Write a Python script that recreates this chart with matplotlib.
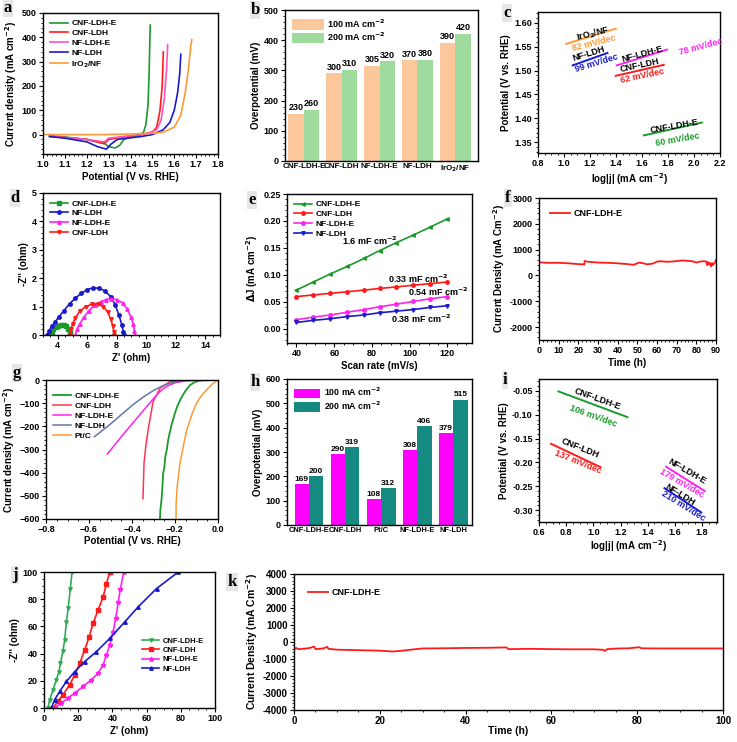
import matplotlib
matplotlib.use("Agg")
import matplotlib.pyplot as plt

plt.rcParams['font.family'] = ['Liberation Sans', 'DejaVu Sans']
plt.rcParams['font.weight'] = 'bold'
plt.rcParams['axes.labelweight'] = 'bold'
plt.rcParams['axes.linewidth'] = 1.0
plt.rcParams['xtick.labelsize'] = 6.5
plt.rcParams['ytick.labelsize'] = 6.5
plt.rcParams['axes.labelsize'] = 7

W, H = 737, 742

# ---------- data ----------
# (a) OER LSV
a_green_x = [1.03, 1.10, 1.20, 1.28, 1.30, 1.33, 1.35, 1.37, 1.40, 1.44, 1.46, 1.47, 1.48, 1.485, 1.49]
a_green_y = [-5, -10, -20, -35, -50, -55, -45, -20, -10, -3, 10, 40, 120, 250, 450]
a_red_x = [1.03, 1.10, 1.20, 1.28, 1.30, 1.35, 1.45, 1.50, 1.52, 1.535, 1.545, 1.55]
a_red_y = [-8, -12, -20, -38, -20, -12, 0, 10, 30, 100, 200, 340]
a_pink_x = [1.03, 1.10, 1.20, 1.28, 1.30, 1.40, 1.48, 1.52, 1.54, 1.555, 1.565, 1.57]
a_pink_y = [-8, -12, -20, -30, -15, -5, 5, 20, 60, 150, 270, 370]
a_blue_x = [1.03, 1.10, 1.20, 1.25, 1.29, 1.31, 1.34, 1.45, 1.50, 1.55, 1.58, 1.60, 1.615, 1.625, 1.63]
a_blue_y = [-8, -15, -30, -50, -60, -40, -20, -8, 0, 20, 50, 100, 170, 250, 330]
a_orange_x = [1.00, 1.30, 1.50, 1.55, 1.60, 1.63, 1.65, 1.665, 1.675, 1.68]
a_orange_y = [0, 0, 5, 10, 30, 80, 170, 270, 360, 390]

# (b) OER overpotential
b_cats = ['CNF-LDH-E', 'CNF-LDH', 'NF-LDH-E', 'NF-LDH', 'IrO$_2$/NF']
b_h100 = [155, 290, 316, 333, 392]
b_h200 = [170, 301, 330, 335, 420]
b_lab100 = ['230', '300', '305', '370', '390']
b_lab200 = ['260', '310', '320', '380', '420']

# (c) OER Tafel
c_names = ['IrO$_2$/NF', 'NF-LDH', 'NF-LDH-E', 'CNF-LDH', 'CNF-LDH-E']
c_slopes = ['82 mV/dec', '99 mV/dec', '78 mV/dec', '62 mV/dec', '60 mV/dec']
c_x0 = [1.016, 1.067, 1.406, 1.398, 1.614]
c_y0 = [1.556, 1.511, 1.511, 1.489, 1.364]
c_x1 = [1.398, 1.334, 1.792, 1.767, 2.060]
c_y1 = [1.588, 1.537, 1.544, 1.512, 1.391]

# (d) Nyquist OER
d_green_x = [3.5, 3.6, 3.7, 3.85, 4.0, 4.2, 4.4, 4.55, 4.7, 4.8, 4.85]
d_green_y = [0.0, 0.1, 0.2, 0.28, 0.33, 0.36, 0.35, 0.3, 0.2, 0.1, 0.02]
d_blue_x = [3.3, 3.4, 3.6, 3.8, 4.1, 4.4, 4.8, 5.2, 5.6, 6.0, 6.4, 6.8, 7.2, 7.6, 7.9, 8.15, 8.35, 8.45, 8.5]
d_blue_y = [0.0, 0.15, 0.3, 0.45, 0.65, 0.85, 1.1, 1.3, 1.47, 1.6, 1.66, 1.65, 1.55, 1.35, 1.05, 0.7, 0.35, 0.1, 0.0]
d_mag_x = [5.2, 5.3, 5.5, 5.8, 6.1, 6.5, 6.9, 7.3, 7.6, 8.0, 8.4, 8.7, 8.95, 9.1, 9.2, 9.25]
d_mag_y = [0.0, 0.2, 0.4, 0.65, 0.85, 1.05, 1.17, 1.25, 1.28, 1.25, 1.13, 0.92, 0.65, 0.4, 0.15, 0.0]
d_red_x = [4.85, 4.9, 5.0, 5.2, 5.5, 5.9, 6.3, 6.7, 7.1, 7.4, 7.6, 7.75, 7.8, 7.82]
d_red_y = [0.0, 0.2, 0.4, 0.6, 0.85, 1.0, 1.08, 1.1, 1.0, 0.8, 0.55, 0.3, 0.1, 0.0]

# (e) double layer capacitance
e_rate = [40, 49, 58, 67, 76, 84, 93, 102, 111, 120]
e_green = [0.072, 0.087, 0.102, 0.116, 0.131, 0.145, 0.160, 0.174, 0.189, 0.204]
e_red = [0.060, 0.063, 0.066, 0.069, 0.072, 0.075, 0.078, 0.081, 0.084, 0.087]
e_mag = [0.017, 0.022, 0.026, 0.031, 0.036, 0.041, 0.046, 0.051, 0.056, 0.060]
e_blue = [0.012, 0.016, 0.019, 0.023, 0.026, 0.030, 0.033, 0.036, 0.040, 0.043]

# (f) OER stability
f_t = [0, 2, 5, 10, 15, 20, 23, 23.2, 25, 30, 35, 40, 45, 48, 51, 53, 55, 58, 60, 62, 65, 68, 70,
       73, 75, 78, 80, 82, 84, 85, 85.5, 86, 86.5, 87, 87.5, 88, 88.5, 89, 89.5, 90]
f_j = [510, 500, 490, 490, 470, 440, 430, 560, 530, 500, 490, 470, 440, 410, 500, 470, 430, 460, 540,
       550, 530, 540, 560, 580, 570, 550, 500, 540, 550, 540, 400, 520, 430, 480, 350, 480, 400, 470, 500, 600]

# (g) HER LSV
g_nf_x = [-0.575, -0.50, -0.45, -0.40, -0.35, -0.30, -0.25, -0.20, -0.15, -0.10, 0.0]
g_nf_y = [-245, -190, -150, -110, -75, -45, -22, -8, -2, -0.5, 0]
g_nfe_x = [-0.515, -0.45, -0.40, -0.35, -0.30, -0.27, -0.24, -0.20, -0.15, -0.10, 0.0]
g_nfe_y = [-320, -245, -190, -135, -80, -50, -28, -12, -4, -1, 0]
g_cnf_x = [-0.349, -0.347, -0.344, -0.335, -0.325, -0.302, -0.27, -0.223, -0.15, 0.0]
g_cnf_y = [-513, -450, -358, -280, -215, -94, -36, -7, 0, 0]
g_cnfe_x = [-0.270, -0.268, -0.262, -0.258, -0.255, -0.250, -0.245, -0.238, -0.232, -0.225, -0.215,
            -0.200, -0.190, -0.178, -0.168, -0.150, -0.130, -0.110, -0.090, -0.060, -0.02]
g_cnfe_y = [-600, -560, -510, -450, -403, -380, -330, -300, -260, -230, -190,
            -143, -115, -90, -72, -45, -22, -10, -3, -1, 0]
g_ptc_x = [-0.195, -0.195, -0.19, -0.177, -0.16, -0.145, -0.12, -0.10, -0.075, -0.053, -0.03, 0.0]
g_ptc_y = [-600, -540, -460, -360, -280, -215, -145, -100, -65, -43, -20, 0]

# (h) HER overpotential
h_cats = ['CNF-LDH-E', 'CNF-LDH', 'Pt/C', 'NF-LDH-E', 'NF-LDH']
h_h100 = [169, 290, 108, 308, 379]
h_h200 = [200, 319, 152, 406, 515]
h_lab100 = ['169', '290', '108', '308', '379']
h_lab200 = ['200', '319', '312', '406', '515']

# (i) HER Tafel
i_names = ['CNF-LDH-E', 'CNF-LDH', 'NF-LDH-E', 'NF-LDH']
i_slopes = ['106 mV/dec', '137 mV/dec', '179 mV/dec', '210 mV/dec']
i_x0 = [0.743, 0.689, 1.535, 1.523]
i_y0 = [-0.051, -0.161, -0.209, -0.254]
i_x1 = [1.251, 1.053, 1.820, 1.795]
i_y1 = [-0.105, -0.210, -0.260, -0.305]

# (j) Nyquist HER
j_green_x = [2.3, 3.3, 5.3, 7.2, 8.8, 9.6, 11.1, 12.1, 13.1, 14.1, 15.4, 16.4]
j_green_y = [0, 6.1, 13.4, 20.7, 26.8, 32.9, 42.2, 50, 63.4, 73.2, 87.8, 100]
j_red_x = [5.3, 8.2, 11.1, 15.0, 18.0, 20.9, 23.8, 26.4, 28.7, 31.6, 34.6, 36.5, 38.5]
j_red_y = [0, 4.9, 9.8, 17, 24.4, 32.9, 42.7, 52.4, 62.2, 72, 81.7, 91.5, 100]
j_mag_x = [6.25, 10.2, 14.1, 18.0, 22.9, 27.7, 31.6, 34.6, 36.5, 38.5, 40.4, 42.0, 43.4, 44.7, 46.7]
j_mag_y = [0, 3.7, 7.3, 11, 15.9, 20.7, 25.6, 31.7, 39, 46.3, 56.1, 65.9, 78, 87.8, 100]
j_blue_x = [4.3, 6.25, 9.2, 13.1, 18.0, 23.8, 30.7, 38.5, 47.3, 55.1, 65.8, 78.5]
j_blue_y = [0, 6.1, 12.2, 19.5, 26.8, 34.1, 41.5, 51.2, 63.4, 74.4, 87.8, 100]

# (k) HER stability
k_t = [0, 0.5, 1, 2, 3, 4, 4.5, 4.8, 5, 6, 7, 7.5, 7.8, 8, 10, 15, 20, 23, 25, 28, 30, 35, 40, 45,
       49.5, 50, 55, 60, 65, 70, 72, 72.5, 73, 74, 76, 78, 80, 80.5, 81, 85, 90, 95, 100]
k_j = [-450, -350, -420, -400, -380, -330, -270, -300, -420, -400, -370, -300, -300, -400, -450, -480,
       -510, -560, -520, -430, -380, -370, -350, -340, -320, -420, -400, -420, -430, -430, -460, -520,
       -420, -400, -380, -370, -320, -310, -370, -380, -380, -380, -380]

GREEN = '#1a9a2a'
RED = '#ff1a1a'
PINK = '#ff55bb'
MAG = '#ff22ee'
BLUE = '#1a1acc'
ORANGE = '#ff9933'


def box(x0, y0, x1, y1):
    return [x0 / W, 1 - y1 / H, (x1 - x0) / W, (y1 - y0) / H]


def style(ax):
    ax.minorticks_on()
    ax.tick_params(which='major', direction='out', length=3, width=0.8, pad=1.5)
    ax.tick_params(which='minor', direction='out', length=1.5, width=0.6)


def tag(letter, x, y):
    fig.text(x / W, 1 - y / H, letter, family='Liberation Serif', weight='bold', fontsize=12,
             ha='center', va='center', bbox=dict(fc='#e6e6e6', ec='none', pad=0.6))


def leg(ax, **kw):
    opts = dict(loc='upper left', frameon=False, fontsize=6, handlelength=2.2,
                labelspacing=0.25, borderaxespad=0.4, handletextpad=0.4)
    opts.update(kw)
    ax.legend(**opts)


fig = plt.figure(figsize=(W / 100, H / 100), dpi=100)

# ---- a ----
ax = fig.add_axes(box(43, 13, 218, 154))
ax.plot(a_green_x, a_green_y, color=GREEN, lw=1.2, label='CNF-LDH-E')
ax.plot(a_red_x, a_red_y, color=RED, lw=1.2, label='CNF-LDH')
ax.plot(a_pink_x, a_pink_y, color=PINK, lw=1.2, label='NF-LDH-E')
ax.plot(a_blue_x, a_blue_y, color=BLUE, lw=1.2, label='NF-LDH')
ax.plot(a_orange_x, a_orange_y, color=ORANGE, lw=1.2, label='IrO$_2$/NF')
ax.set_xlim(1.0, 1.8)
ax.set_ylim(-80, 500)
ax.set_xticks([1.0, 1.1, 1.2, 1.3, 1.4, 1.5, 1.6, 1.7, 1.8])
ax.set_yticks([0, 100, 200, 300, 400, 500])
ax.set_xlabel('Potential (V vs. RHE)', labelpad=2)
ax.set_ylabel('Current density (mA cm$^{-2}$)', labelpad=2)
style(ax)
leg(ax)
tag('a', 8, 8)

# ---- b ----
ax = fig.add_axes(box(285, 10, 478, 161))
xs = list(range(len(b_cats)))
bw = 0.41
ax.bar([x - bw / 2 for x in xs], b_h100, bw, color='#fcc89b', label='100 mA cm$^{-2}$')
ax.bar([x + bw / 2 for x in xs], b_h200, bw, color='#9edb9c', label='200 mA cm$^{-2}$')
for x, h, t in zip(xs, b_h100, b_lab100):
    ax.text(x - bw / 2, h + 6, t, ha='center', va='bottom', fontsize=6.5)
for x, h, t in zip(xs, b_h200, b_lab200):
    ax.text(x + bw / 2, h + 6, t, ha='center', va='bottom', fontsize=6.5)
ax.set_xlim(-0.5, 4.6)
ax.set_ylim(0, 500)
ax.set_xticks(xs)
ax.set_xticklabels(b_cats, fontsize=5.8)
ax.set_ylabel('Overpotential (mV)', labelpad=2)
style(ax)
ax.tick_params(axis='x', which='both', length=0)
leg(ax, handlelength=3.5, handleheight=1.4, labelspacing=0.1, fontsize=6.5)
tag('b', 255, 10)

# ---- c ----
ax = fig.add_axes(box(538, 12, 720, 153))
c_cols = [ORANGE, BLUE, MAG, RED, GREEN]
for k in range(5):
    ax.plot([c_x0[k], c_x1[k]], [c_y0[k], c_y1[k]], color=c_cols[k], lw=1.4)
c_name_xy = [(1.22, 1.578), (1.19, 1.535), (1.60, 1.535), (1.58, 1.510), (1.85, 1.383)]
c_slope_xy = [(1.23, 1.558), (1.25, 1.516), (2.05, 1.550), (1.60, 1.489), (1.87, 1.356)]
c_rot = [14, 17, 15, 12, 10]
for k in range(5):
    ax.text(c_name_xy[k][0], c_name_xy[k][1], c_names[k], fontsize=6.5, ha='center', va='center',
            rotation=c_rot[k])
    ax.text(c_slope_xy[k][0], c_slope_xy[k][1], c_slopes[k], fontsize=6.5, ha='center', va='center',
            rotation=c_rot[k], color=c_cols[k])
ax.set_xlim(0.8, 2.2)
ax.set_ylim(1.327, 1.623)
ax.set_xticks([0.8, 1.0, 1.2, 1.4, 1.6, 1.8, 2.0, 2.2])
ax.set_yticks([1.35, 1.40, 1.45, 1.50, 1.55, 1.60])
ax.set_yticklabels(['1.35', '1.40', '1.45', '1.50', '1.55', '1.60'])
ax.set_xlabel('log|j| (mA cm$^{-2}$)', labelpad=2)
ax.set_ylabel('Potential (V vs. RHE)', labelpad=2)
style(ax)
tag('c', 507, 13)

# ---- d ----
ax = fig.add_axes(box(43, 193, 220, 335))
ax.plot(d_green_x, d_green_y, color=GREEN, lw=1.2, marker='s', ms=2.5, label='CNF-LDH-E')
ax.plot(d_blue_x, d_blue_y, color=BLUE, lw=1.2, marker='o', ms=2.5, label='NF-LDH')
ax.plot(d_mag_x, d_mag_y, color=MAG, lw=1.2, marker='^', ms=2.5, label='NF-LDH-E')
ax.plot(d_red_x, d_red_y, color=RED, lw=1.2, marker='v', ms=2.5, label='CNF-LDH')
ax.set_xlim(3, 15)
ax.set_ylim(0, 5)
ax.set_xticks([4, 6, 8, 10, 12, 14])
ax.set_yticks([0, 1, 2, 3, 4, 5])
ax.set_xlabel("Z' (ohm)", labelpad=2)
ax.set_ylabel("-Z'' (ohm)", labelpad=2)
style(ax)
leg(ax)
tag('d', 15, 198)

# ---- e ----
ax = fig.add_axes(box(287, 194, 472, 343))
ax.plot(e_rate, e_green, color=GREEN, lw=1.2, marker='<', ms=2.5, label='CNF-LDH-E')
ax.plot(e_rate, e_red, color=RED, lw=1.2, marker='o', ms=2.5, label='CNF-LDH')
ax.plot(e_rate, e_mag, color=MAG, lw=1.2, marker='o', ms=2.5, label='NF-LDH-E')
ax.plot(e_rate, e_blue, color=BLUE, lw=1.2, marker='v', ms=2.5, label='NF-LDH')
ax.text(79, 0.163, '1.6 mF cm$^{-2}$', fontsize=6.5, ha='center', va='center')
ax.text(104.5, 0.092, '0.33 mF cm$^{-2}$', fontsize=6.5, ha='center', va='center')
ax.text(115, 0.068, '0.54 mF cm$^{-2}$', fontsize=6.5, ha='center', va='center')
ax.text(106, 0.019, '0.38 mF cm$^{-2}$', fontsize=6.5, ha='center', va='center')
ax.set_xlim(35, 133)
ax.set_ylim(-0.026, 0.25)
ax.set_xticks([40, 60, 80, 100, 120])
ax.set_yticks([0.0, 0.05, 0.10, 0.15, 0.20, 0.25])
ax.set_yticklabels(['0.00', '0.05', '0.10', '0.15', '0.20', '0.25'])
ax.set_xlabel('Scan rate (mV/s)', labelpad=2)
ax.set_ylabel('$\\Delta$J (mA cm$^{-2}$)', labelpad=2)
style(ax)
leg(ax)
tag('e', 252, 200)

# ---- f ----
ax = fig.add_axes(box(539, 198, 716, 340))
ax.plot(f_t, f_j, color=RED, lw=1.3, label='CNF-LDH-E')
ax.set_xlim(0, 90)
ax.set_ylim(-2500, 3000)
ax.set_xticks(range(0, 91, 10))
ax.set_yticks([-2000, -1000, 0, 1000, 2000, 3000])
ax.set_yticklabels(['-2000', '-1000', '0', '1000', '2000', '3000'])
ax.set_xlabel('Time (h)', labelpad=2)
ax.set_ylabel('Current Density (mA Cm$^{-2}$)', labelpad=2)
style(ax)
leg(ax, fontsize=6.5, borderaxespad=0.8)
tag('f', 508, 198)

# ---- g ----
ax = fig.add_axes(box(46, 380, 218, 519))
ax.plot(g_cnfe_x, g_cnfe_y, color=GREEN, lw=1.3, label='CNF-LDH-E')
ax.plot(g_cnf_x, g_cnf_y, color='#ff3355', lw=1.1, label='CNF-LDH')
ax.plot(g_nfe_x, g_nfe_y, color=MAG, lw=1.1, label='NF-LDH-E')
ax.plot(g_nf_x, g_nf_y, color='#6677aa', lw=1.1, label='NF-LDH')
ax.plot(g_ptc_x, g_ptc_y, color=ORANGE, lw=1.1, label='Pt/C')
ax.set_xlim(-0.8, 0.0)
ax.set_ylim(-600, 0)
ax.set_xticks([-0.8, -0.6, -0.4, -0.2, 0.0])
ax.set_yticks([-600, -500, -400, -300, -200, -100, 0])
ax.set_xlabel('Potential (V vs. RHE)', labelpad=1)
ax.set_ylabel('Current density (mA cm$^{-2}$)', labelpad=2)
style(ax)
leg(ax, bbox_to_anchor=(0.0, 0.96))
tag('g', 17, 373)

# ---- h ----
ax = fig.add_axes(box(287, 379, 472, 525))
xs = list(range(len(h_cats)))
bw = 0.4
ax.bar([x - bw / 2 for x in xs], h_h100, bw, color='#ff00ff', label='100 mA cm$^{-2}$')
ax.bar([x + bw / 2 for x in xs], h_h200, bw, color='#148a80', label='200 mA cm$^{-2}$')
for x, h, t in zip(xs, h_h100, h_lab100):
    ax.text(x - bw / 2, h + 5, t, ha='center', va='bottom', fontsize=6)
for x, h, t in zip(xs, h_h200, h_lab200):
    ax.text(x + bw / 2, h + 5, t, ha='center', va='bottom', fontsize=6)
ax.set_xlim(-0.61, 4.52)
ax.set_ylim(0, 600)
ax.set_xticks(xs)
ax.set_xticklabels(h_cats, fontsize=5.4)
ax.set_yticks([0, 100, 200, 300, 400, 500, 600])
ax.set_ylabel('Overpotential (mV)', labelpad=2)
style(ax)
ax.tick_params(axis='x', which='both', length=0)
leg(ax, handlelength=3.0, handleheight=1.3, labelspacing=0.1, fontsize=6.3)
tag('h', 255, 382)

# ---- i ----
ax = fig.add_axes(box(539, 379, 717, 522))
i_cols = [GREEN, RED, MAG, BLUE]
for k in range(4):
    ax.plot([i_x0[k], i_x1[k]], [i_y0[k], i_y1[k]], color=i_cols[k], lw=1.4)
i_name_xy = [(1.03, -0.066), (0.90, -0.171), (1.69, -0.218), (1.64, -0.268)]
i_slope_xy = [(1.00, -0.103), (0.89, -0.200), (1.65, -0.243), (1.66, -0.292)]
i_rot = [-20, -22, -30, -32]
for k in range(4):
    ax.text(i_name_xy[k][0], i_name_xy[k][1], i_names[k], fontsize=6.5, ha='center', va='center',
            rotation=i_rot[k])
    ax.text(i_slope_xy[k][0], i_slope_xy[k][1], i_slopes[k], fontsize=6.5, ha='center', va='center',
            rotation=i_rot[k], color=i_cols[k])
ax.set_xlim(0.6, 1.91)
ax.set_ylim(-0.325, -0.025)
ax.set_xticks([0.6, 0.8, 1.0, 1.2, 1.4, 1.6, 1.8])
ax.set_yticks([-0.30, -0.25, -0.20, -0.15, -0.10, -0.05])
ax.set_yticklabels(['-0.30', '-0.25', '-0.20', '-0.15', '-0.10', '-0.05'])
ax.set_xlabel('log|j| (mA cm$^{-2}$)', labelpad=1)
ax.set_ylabel('Potential (V vs. RHE)', labelpad=2)
style(ax)
tag('i', 505, 380)

# ---- j ----
ax = fig.add_axes(box(44, 572, 215, 708))
ax.plot(j_green_x, j_green_y, color='#33aa55', lw=1.2, marker='v', ms=2.5, label='CNF-LDH-E')
ax.plot(j_red_x, j_red_y, color=RED, lw=1.2, marker='s', ms=2.5, label='CNF-LDH')
ax.plot(j_mag_x, j_mag_y, color=MAG, lw=1.2, marker='*', ms=3.5, label='NF-LDH-E')
ax.plot(j_blue_x, j_blue_y, color=BLUE, lw=1.2, marker='^', ms=2.5, label='NF-LDH')
ax.set_xlim(0, 100)
ax.set_ylim(0, 100)
ax.set_xticks([0, 20, 40, 60, 80, 100])
ax.set_yticks([0, 20, 40, 60, 80, 100])
ax.set_xlabel("Z' (ohm)", labelpad=2)
ax.set_ylabel("-Z'' (ohm)", labelpad=2)
style(ax)
leg(ax, loc='center left', bbox_to_anchor=(0.54, 0.39), fontsize=5.5)
tag('j', 15, 575)

# ---- k ----
ax = fig.add_axes(box(294, 574, 723, 710))
ax.plot(k_t, k_j, color=RED, lw=1.3, label='CNF-LDH-E')
ax.set_xlim(0, 100)
ax.set_ylim(-4000, 4000)
ax.set_xticks([0, 20, 40, 60, 80, 100])
ax.set_yticks(range(-4000, 4001, 1000))
ax.set_yticklabels([str(v) for v in range(-4000, 4001, 1000)])
ax.set_xlabel('Time (h)', labelpad=0, fontsize=7.5)
ax.set_ylabel('Current Density (mA Cm$^{-2}$)', labelpad=2, fontsize=7.5)
style(ax)
ax.tick_params(labelsize=7)
leg(ax, fontsize=6.5, borderaxespad=1.2)
tag('k', 232, 582)

fig.savefig('out.png', dpi=100)
